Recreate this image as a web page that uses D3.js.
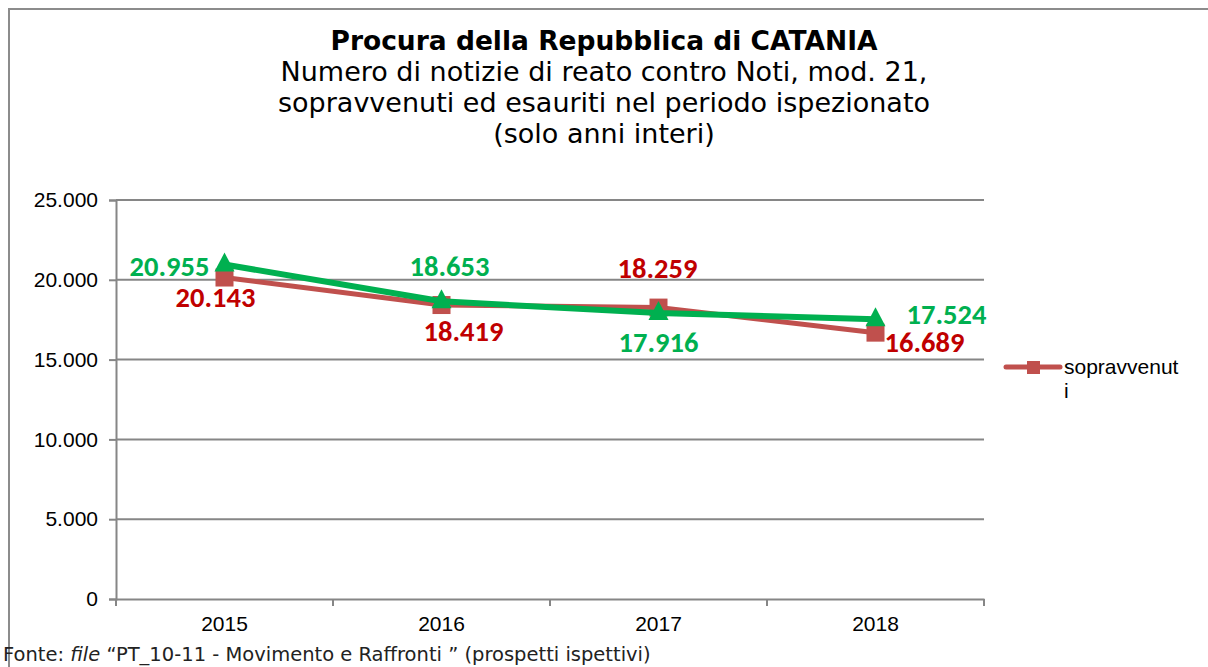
<!DOCTYPE html>
<html>
<head>
<meta charset="utf-8">
<script src="https://cdn.jsdelivr.net/npm/d3@7"></script>
<style>
  body { margin: 0; background: #fff; }
  svg { display: block; }
</style>
</head>
<body>
<svg id="chart" width="1208" height="667"></svg>
<script>
// Chart data
const years = ['2015', '2016', '2017', '2018'];
const sopravvenuti = [20143, 18419, 18259, 16689];
const esauriti = [20955, 18653, 17916, 17524];
const yTicks = [0, 5000, 10000, 15000, 20000, 25000];

const titleLines = [
    'Numero di notizie di reato contro Noti, mod. 21,',
    'sopravvenuti ed esauriti nel periodo ispezionato',
    '(solo anni interi)'
];

const svg = d3.select('#chart');
const margin = { left: 116, right: 984, top: 200, bottom: 599 };

const x = d3.scaleBand().domain(years).range([margin.left, margin.right]);
const y = d3.scaleLinear().domain([0, 25000]).range([margin.bottom, margin.top]);
const fmt = v => d3.format(',')(v).replace(/,/g, '.');

// Outer frame (top + left only visible)
svg.append('path')
    .attr('d', 'M9,667 V9 H1208')
    .attr('fill', 'none')
    .attr('stroke', '#8c8c8c')
    .attr('stroke-width', 2);

// Titles
svg.append('text')
    .attr('x', 604).attr('y', 50)
    .attr('text-anchor', 'middle')
    .attr('font-family', 'DejaVu Sans, Verdana, sans-serif')
    .attr('font-weight', 'bold')
    .attr('font-size', 26.5)
    .text('Procura della Repubblica di CATANIA');

titleLines.forEach((t, i) => {
    svg.append('text')
        .attr('x', 604).attr('y', 81 + i * 31)
        .attr('text-anchor', 'middle')
        .attr('font-family', 'DejaVu Sans, Verdana, sans-serif')
        .attr('font-size', 27)
        .text(t);
});

// Gridlines
svg.append('g')
    .selectAll('line')
    .data(yTicks.filter(d => d > 0))
    .join('line')
    .attr('x1', margin.left).attr('x2', margin.right)
    .attr('y1', d => y(d)).attr('y2', d => y(d))
    .attr('stroke', '#868686')
    .attr('stroke-width', 2);

const axisFont = 'Liberation Sans, Arial, sans-serif';

// Y axis
const yAxis = svg.append('g')
    .attr('transform', `translate(${margin.left},0)`)
    .call(d3.axisLeft(y).tickValues(yTicks).tickFormat(fmt).tickSize(7).tickPadding(11));
yAxis.selectAll('path, line').attr('stroke', '#868686').attr('stroke-width', 2);
yAxis.selectAll('text')
    .attr('font-family', axisFont)
    .attr('font-size', 21)
    .attr('fill', '#000');

// X axis
const xAxis = svg.append('g')
    .attr('transform', `translate(0,${margin.bottom})`)
    .call(d3.axisBottom(x).tickSize(0).tickPadding(17));
xAxis.select('.domain').attr('stroke', '#868686').attr('stroke-width', 2);
xAxis.selectAll('text')
    .attr('font-family', axisFont)
    .attr('font-size', 21)
    .attr('fill', '#000');
xAxis.selectAll('.boundary')
    .data(d3.range(years.length + 1))
    .join('line')
    .attr('class', 'boundary')
    .attr('x1', i => margin.left + i * x.bandwidth())
    .attr('x2', i => margin.left + i * x.bandwidth())
    .attr('y1', 0).attr('y2', 7)
    .attr('stroke', '#868686')
    .attr('stroke-width', 2);

const cx = d => x(d) + x.bandwidth() / 2;
const line = d3.line().x((d, i) => cx(years[i])).y(d => y(d));

// Sopravvenuti (red)
svg.append('path')
    .datum(sopravvenuti)
    .attr('d', line)
    .attr('fill', 'none')
    .attr('stroke', '#c0504d')
    .attr('stroke-width', 5)
    .attr('stroke-linejoin', 'round');
svg.append('g')
    .selectAll('rect')
    .data(sopravvenuti)
    .join('rect')
    .attr('x', (d, i) => cx(years[i]) - 9)
    .attr('y', d => y(d) - 9)
    .attr('width', 18).attr('height', 18)
    .attr('fill', '#c0504d');

// Esauriti (green)
svg.append('path')
    .datum(esauriti)
    .attr('d', line)
    .attr('fill', 'none')
    .attr('stroke', '#00b050')
    .attr('stroke-width', 6)
    .attr('stroke-linejoin', 'round');
svg.append('g')
    .selectAll('path')
    .data(esauriti)
    .join('path')
    .attr('d', (d, i) => {
        const px = cx(years[i]), py = y(d);
        return `M${px},${py - 12} L${px + 10},${py + 7} L${px - 10},${py + 7} Z`;
    })
    .attr('fill', '#00b050');

// Data labels: offsets relative to the marker
const redOffsets = [[-9, 20], [22, 26], [-1, -39], [49, 10]];
const greenOffsets = [[-55, 2], [8, -35], [0, 29], [71, -5]];

const labelFont = 'Carlito, Calibri, Lato, sans-serif';
svg.append('g')
    .selectAll('text')
    .data(sopravvenuti)
    .join('text')
    .attr('x', (d, i) => cx(years[i]) + redOffsets[i][0])
    .attr('y', (d, i) => y(d) + redOffsets[i][1])
    .attr('text-anchor', 'middle')
    .attr('dominant-baseline', 'central')
    .attr('font-family', labelFont)
    .attr('font-weight', 'bold')
    .attr('font-size', 28.5)
    .attr('fill', '#c00000')
    .text(fmt);

svg.append('g')
    .selectAll('text')
    .data(esauriti)
    .join('text')
    .attr('x', (d, i) => cx(years[i]) + greenOffsets[i][0])
    .attr('y', (d, i) => y(d) + greenOffsets[i][1])
    .attr('text-anchor', 'middle')
    .attr('dominant-baseline', 'central')
    .attr('font-family', labelFont)
    .attr('font-weight', 'bold')
    .attr('font-size', 28.5)
    .attr('fill', '#00b050')
    .text(fmt);

// Legend (only the first series fits)
const lg = svg.append('g').attr('transform', 'translate(1006,367)');
lg.append('line')
    .attr('x1', 0).attr('x2', 54)
    .attr('stroke', '#c0504d').attr('stroke-width', 5)
    .attr('stroke-linecap', 'round');
lg.append('rect')
    .attr('x', 21).attr('y', -6).attr('width', 13).attr('height', 13)
    .attr('fill', '#c0504d');
lg.append('text')
    .attr('x', 58).attr('y', 7)
    .attr('font-family', axisFont)
    .attr('font-size', 21)
    .text('sopravvenut');
lg.append('text')
    .attr('x', 58).attr('y', 31)
    .attr('font-family', axisFont)
    .attr('font-size', 21)
    .text('i');

// Source note
const src = svg.append('text')
    .attr('x', 3).attr('y', 661)
    .attr('font-family', 'DejaVu Sans, Verdana, sans-serif')
    .attr('font-size', 19.5)
    .attr('fill', '#222');
src.append('tspan').text('Fonte: ');
src.append('tspan').attr('font-style', 'italic').text('file');
src.append('tspan').text(' “PT_10-11 - Movimento e Raffronti ” (prospetti ispettivi)');
</script>
</body>
</html>
